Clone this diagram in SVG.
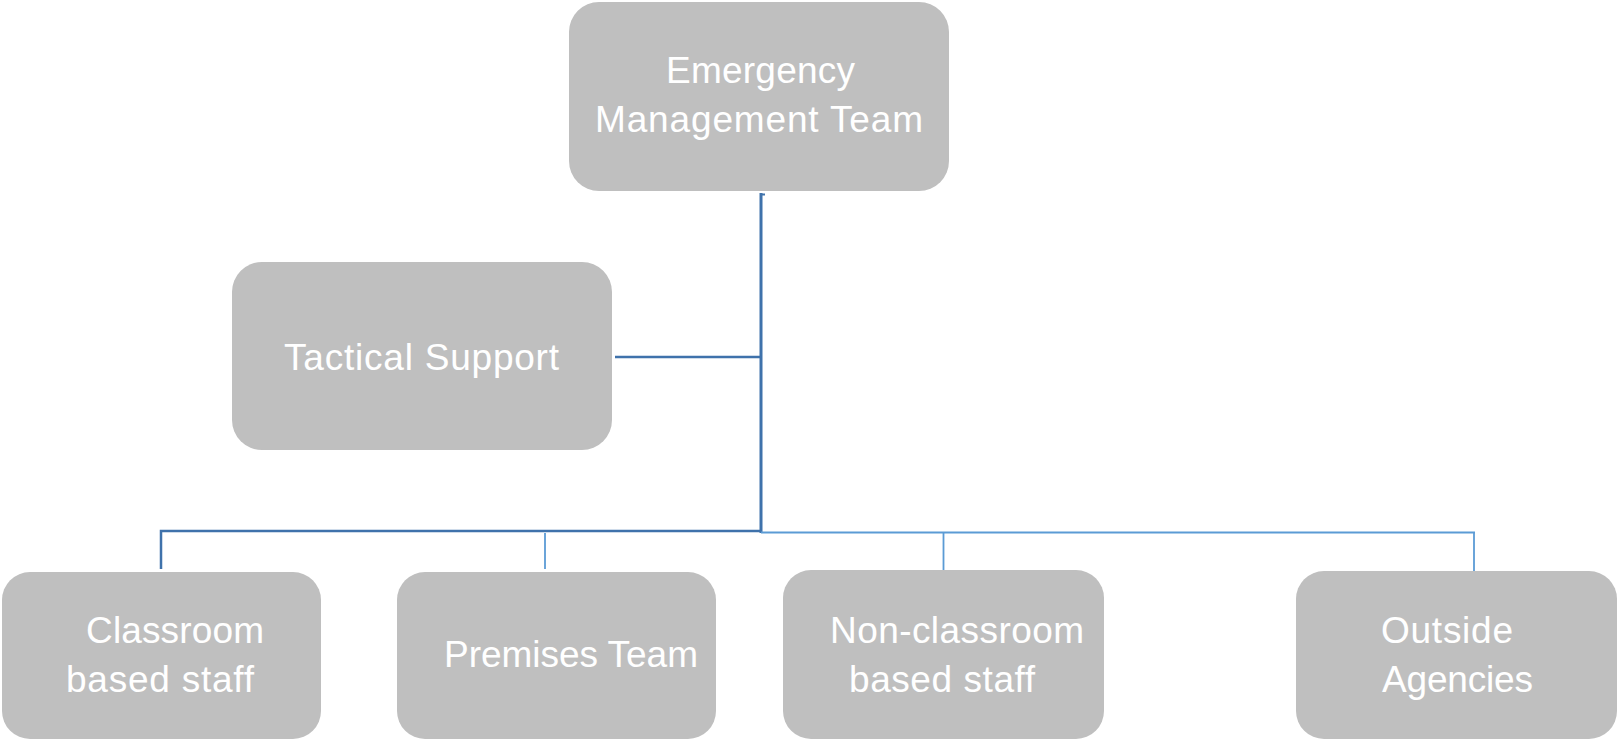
<svg xmlns="http://www.w3.org/2000/svg" width="1619" height="740" viewBox="0 0 1619 740">
<style>
.box{fill:#bfbfbf;}
.lbl{font-family:"Liberation Sans",Arial,sans-serif;font-size:37px;fill:#ffffff;}
.dk{stroke:#3f72ab;fill:none;}
.lt{stroke:#5b9bd5;fill:none;}
</style>
<rect width="1619" height="740" fill="#ffffff"/>
<g id="connectors">
<line class="dk" x1="761" y1="193" x2="761" y2="533" stroke-width="3"/>
<line class="dk" x1="762" y1="194.5" x2="765" y2="194.5" stroke-width="2"/>
<line class="dk" x1="615" y1="357" x2="761" y2="357" stroke-width="2.5"/>
<polyline class="dk" points="161,569 161,531 761,531" stroke-width="2.5"/>
<line class="lt" x1="761" y1="532.5" x2="1475" y2="532.5" stroke-width="2"/>
<line class="lt" x1="545" y1="533" x2="545" y2="569" stroke-width="1.8"/>
<line class="lt" x1="943.5" y1="533" x2="943.5" y2="572" stroke-width="1.8"/>
<line class="lt" x1="1474" y1="532" x2="1474" y2="572" stroke-width="1.8"/>
</g>
<g id="emergency-management-team">
<rect class="box" x="569" y="2" width="380" height="189" rx="30" ry="30"/>
<text class="lbl" x="666" y="83" textLength="189">Emergency</text>
<text class="lbl" x="595" y="132" textLength="328">Management Team</text>
</g>
<g id="tactical-support">
<rect class="box" x="232" y="262" width="380" height="188" rx="30" ry="30"/>
<text class="lbl" x="284" y="370" textLength="275">Tactical Support</text>
</g>
<g id="classroom-based-staff">
<rect class="box" x="2" y="572" width="319" height="167" rx="28" ry="28"/>
<text class="lbl" x="86" y="643" textLength="178">Classroom</text>
<text class="lbl" x="66" y="692" textLength="188">based staff</text>
</g>
<g id="premises-team">
<rect class="box" x="397" y="572" width="319" height="167" rx="28" ry="28"/>
<text class="lbl" x="444" y="667" textLength="254">Premises Team</text>
</g>
<g id="non-classroom-based-staff">
<rect class="box" x="783" y="570" width="321" height="169" rx="28" ry="28"/>
<text class="lbl" x="830" y="643" textLength="254">Non-classroom</text>
<text class="lbl" x="849" y="692" textLength="186">based staff</text>
</g>
<g id="outside-agencies">
<rect class="box" x="1296" y="571" width="321" height="168" rx="28" ry="28"/>
<text class="lbl" x="1381" y="643" textLength="132">Outside</text>
<text class="lbl" x="1382" y="692" textLength="151">Agencies</text>
</g>
</svg>
